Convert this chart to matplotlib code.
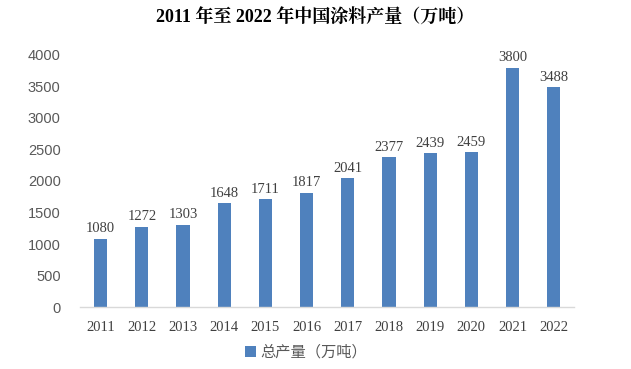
import numpy as np
import matplotlib
matplotlib.use("Agg")
import matplotlib.pyplot as plt

# --- data ---
years = ["2011", "2012", "2013", "2014", "2015", "2016",
         "2017", "2018", "2019", "2020", "2021", "2022"]
output = [1080, 1272, 1303, 1648, 1711, 1817, 2041, 2377, 2439, 2459, 3800, 3488]
y_ticks = [0, 500, 1000, 1500, 2000, 2500, 3000, 3500, 4000]
title = "2011 年至 2022 年中国涂料产量（万吨）"
series_name = "总产量（万吨）"
# ------------

BAR_COLOR = "#4F81BD"
SERIF = ["Liberation Serif", "Noto Serif CJK SC", "Noto Sans CJK SC"]
CJK = ["Noto Sans CJK SC", "DejaVu Sans"]

fig = plt.figure(figsize=(6.31, 3.69), dpi=100)
ax = fig.add_axes([0.127, 0.168, 0.783, 0.683])

x = np.arange(len(years))
bars = ax.bar(x, output, width=0.32, color=BAR_COLOR, label=series_name)

for xi, v in zip(x, output):
    ax.text(xi, v + 55, str(v), ha="center", va="bottom",
            fontsize=10.5, family=SERIF, color="#404040")

ax.set_xlim(-0.5, len(years) - 0.5)
ax.set_ylim(0, 4000)
ax.set_yticks(y_ticks)
ax.set_yticklabels([str(t) for t in y_ticks], fontsize=10.5,
                   family=["Liberation Sans", "DejaVu Sans"], color="#595959")
ax.set_xticks(x)
ax.set_xticklabels(years, fontsize=10.5, family=SERIF, color="#404040")
ax.tick_params(axis="both", length=0)
ax.tick_params(axis="y", pad=14)
ax.tick_params(axis="x", pad=10)

for side in ["top", "right", "left"]:
    ax.spines[side].set_visible(False)
ax.spines["bottom"].set_color("#D9D9D9")
ax.spines["bottom"].set_linewidth(1.0)

fig.text(0.5, 0.953, title, ha="center", va="center", fontsize=13,
         fontweight="bold", family=SERIF, color="black")

leg = fig.legend(handles=[bars], labels=[series_name], loc="center",
                 bbox_to_anchor=(0.485, 0.045), frameon=False,
                 handlelength=0.7, handleheight=0.7, handletextpad=0.3,
                 prop={"family": CJK, "size": 11})
for t in leg.get_texts():
    t.set_color("#595959")

fig.savefig("out.png", dpi=100)
